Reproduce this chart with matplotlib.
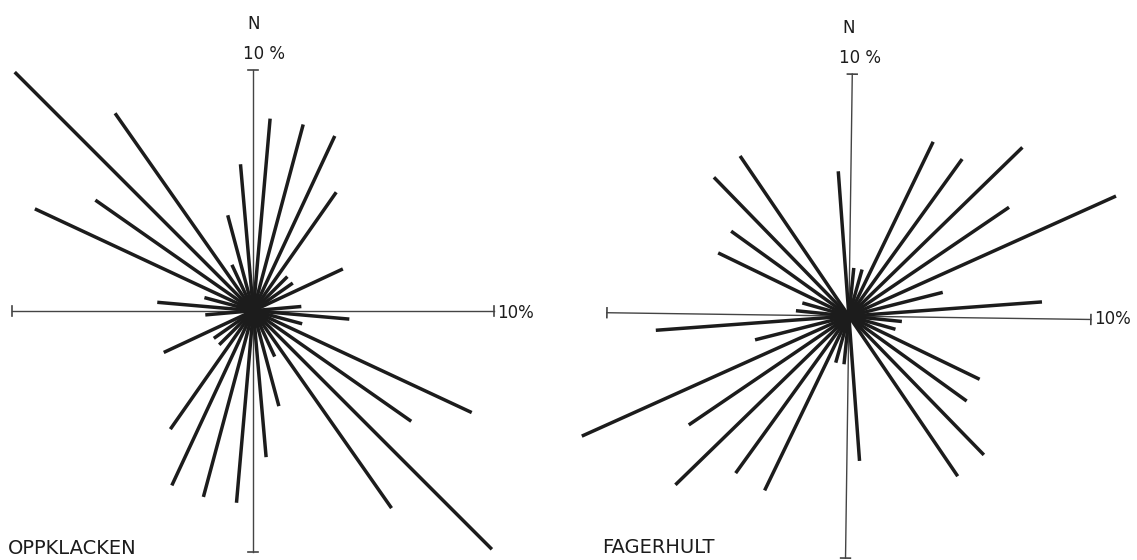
import numpy as np
import matplotlib
matplotlib.use("Agg")
import matplotlib.pyplot as plt

# strike directions, 10 degree classes (class centre, degrees from N)
azimuth = [5, 15, 25, 35, 45, 55, 65, 75, 85, 95, 105, 115, 125, 135, 145, 155, 165, 175]

# percentage of measurements per class
oppklacken = [8.0, 8.0, 8.0, 6.0, 2.0, 2.0, 4.1, 0.0, 2.0, 4.0, 2.1, 10.0, 8.0, 14.0, 10.0, 2.1, 4.1, 6.1]
fagerhult  = [2.0, 2.0, 8.0, 8.0, 10.0, 8.0, 12.1, 4.0, 8.0, 2.2, 2.0, 6.0, 6.0, 8.0, 8.0, 0.0, 0.0, 6.0]

sites = ["OPPKLACKEN", "FAGERHULT"]
ref_pct = 10          # length of the reference arms, in %

INK = "#1c1c1c"
W, H = 1137, 560


def rose_axes(fig, cx, cy, px_per_pct):
    # full-figure axes in % units, centred on the rose at pixel (cx, cy)
    ax = fig.add_axes([0, 0, 1, 1])
    ax.set_xlim(-cx / px_per_pct, (W - cx) / px_per_pct)
    ax.set_ylim(-(H - cy) / px_per_pct, cy / px_per_pct)
    ax.axis("off")
    ax.patch.set_alpha(0)
    return ax


def draw_rose(ax, az, pct, name, name_y, rot=0.0):
    # reference cross with end ticks
    for a in (0, 90, 180, 270):
        t = np.radians(a + rot)
        ux, uy = np.sin(t), np.cos(t)
        ax.plot([0, ref_pct * ux], [0, ref_pct * uy], color="#444444", lw=1.0, zorder=1)
        ex, ey = ref_pct * ux, ref_pct * uy
        ax.plot([ex - 0.2 * uy, ex + 0.2 * uy], [ey + 0.2 * ux, ey - 0.2 * ux],
                color="#444444", lw=1.2, zorder=1)

    # each class drawn both ways through the centre
    for a, p in zip(az, pct):
        if p <= 0:
            continue
        t = np.radians(a + rot)
        dx, dy = p * np.sin(t), p * np.cos(t)
        ax.plot([-dx, dx], [-dy, dy], color=INK, lw=2.5, solid_capstyle="butt", zorder=2)

    ax.text(0, 11.9, "N", ha="center", va="center", fontsize=12, color=INK)
    ax.text(0.45, 10.65, "10 %", ha="center", va="center", fontsize=12, color=INK)
    ax.text(ref_pct + 0.12, -0.1, "10%", ha="left", va="center", fontsize=12, color=INK)
    ax.text(-10.2, name_y, name, ha="left", va="center", fontsize=14, color=INK)


fig = plt.figure(figsize=(W / 100, H / 100), dpi=100)
fig.patch.set_facecolor("white")

ax1 = rose_axes(fig, 253.3, 310.7, 24.1)
draw_rose(ax1, azimuth, oppklacken, sites[0], -9.85)

ax2 = rose_axes(fig, 848.9, 316.1, 24.2)
draw_rose(ax2, azimuth, fagerhult, sites[1], -9.55, rot=0.8)

fig.savefig("out.png", dpi=100)
